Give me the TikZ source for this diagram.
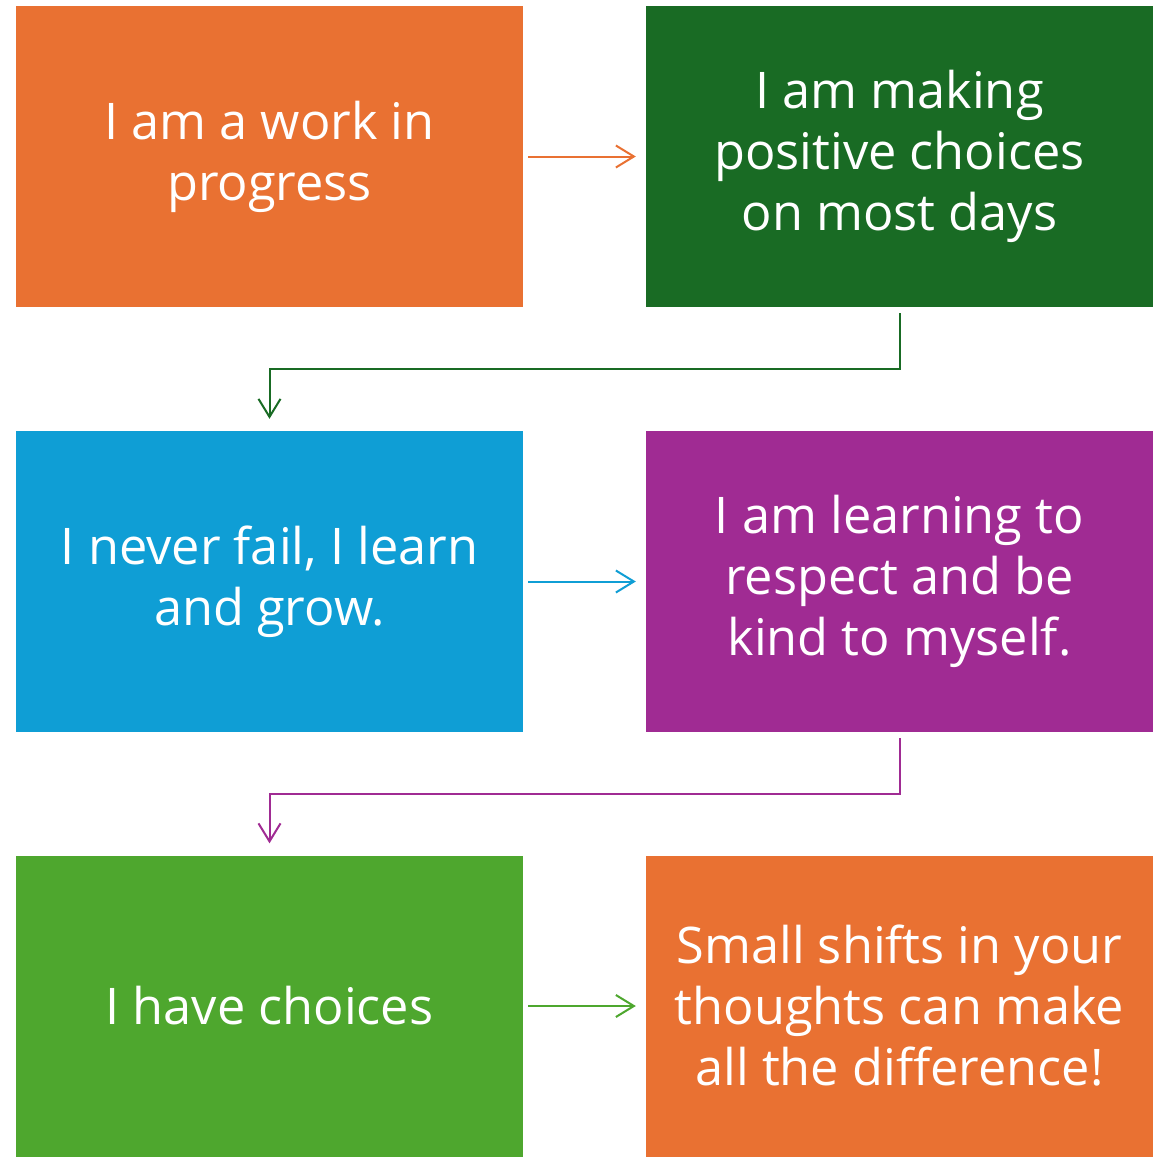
\documentclass[tikz,border=0pt]{standalone}
\usepackage{fontspec}
\setmainfont{Open Sans}
\usetikzlibrary{arrows.meta}
\definecolor{cOrange}{HTML}{E97132}
\definecolor{cDarkGreen}{HTML}{196B24}
\definecolor{cBlue}{HTML}{0F9ED5}
\definecolor{cPurple}{HTML}{A02B93}
\definecolor{cGreen}{HTML}{4EA72E}
\tikzset{
  card/.style={fill=#1, draw=none, minimum width=507pt, minimum height=301pt,
    inner sep=0pt, align=center, text=white,
    font=\fontsize{50.5}{61}\selectfont},
  link/.style={draw=#1, line width=2pt,
    -{Straight Barb[length=18pt,width=22pt,line width=2pt]}}
}
\begin{document}
\begin{tikzpicture}[x=1pt,y=-1pt]
\useasboundingbox (0,0) rectangle (1159,1157);
\fill[white] (0,0) rectangle (1159,1157);
% boxes
\node[card=cOrange]    (b1) at (269.5,156.5) {I am a work in\\progress};
\node[card=cDarkGreen] (b2) at (899.5,156.5) {I am making\\positive choices\\on most days};
\node[card=cBlue]      (b3) at (269.5,581.5) {I never fail, I learn\\and grow.};
\node[card=cPurple]    (b4) at (899.5,581.5) {I am learning to\\respect and be\\kind to myself.};
\node[card=cGreen]     (b5) at (269.5,1006) {I have choices};
\node[card=cOrange]    (b6) at (899.5,1006) {Small shifts in your\\thoughts can make\\all the difference!};
% connectors
\draw[link=cOrange] ([xshift=5pt]b1.east) -- ([xshift=-10pt]b2.west);
\draw[link=cDarkGreen] ([yshift=-6pt]b2.south) -- ++(0,56) -| ([yshift=12pt]b3.north);
\draw[link=cBlue] ([xshift=5pt]b3.east) -- ([xshift=-10pt]b4.west);
\draw[link=cPurple] ([yshift=-6pt]b4.south) -- ++(0,56) -| ([yshift=12pt]b5.north);
\draw[link=cGreen] ([xshift=5pt]b5.east) -- ([xshift=-10pt]b6.west);
\end{tikzpicture}
\end{document}
